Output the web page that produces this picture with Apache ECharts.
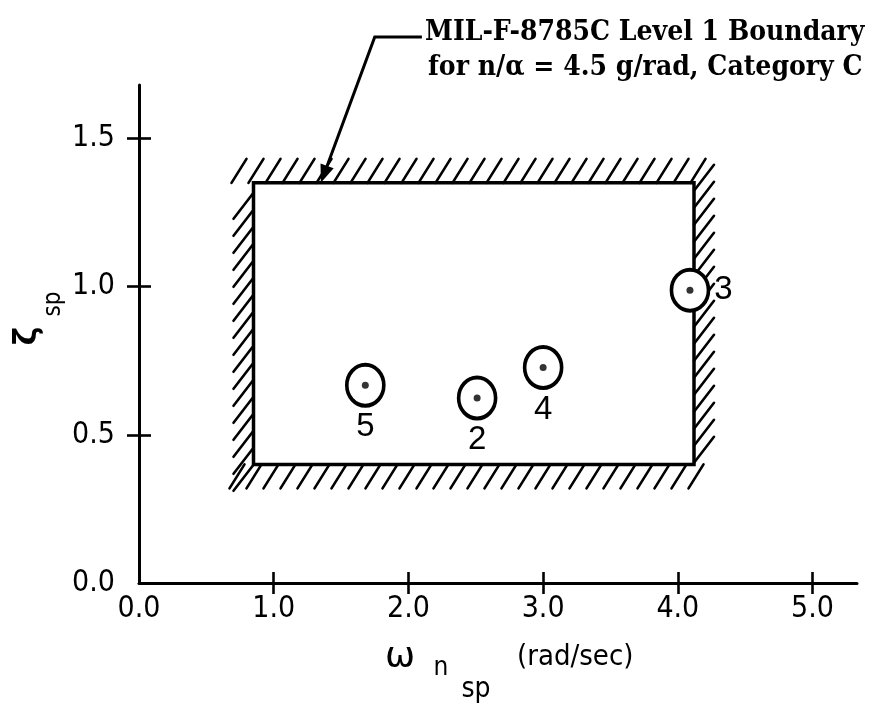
<!DOCTYPE html>
<html><head><meta charset="utf-8">
<script src="https://cdn.jsdelivr.net/npm/echarts@6/dist/echarts.min.js"></script>
<style>html,body{margin:0;padding:0;background:#fff}#c{width:871px;height:704px}</style>
</head><body><div id="c"></div>
<script>
// ---- data ----
const xTickValues = [1, 2, 3, 4, 5];
const xLabelValues = [0, 1, 2, 3, 4, 5];
const yTickValues = [0.5, 1.0, 1.5];
const yLabelValues = [0, 0.5, 1.0, 1.5];
const boundaryOmega = [0.85, 4.12];   // rad/sec, left / right edge of Level 1 box
const boundaryZeta = [0.40, 1.35];    // lower / upper edge
const pointIds = ['5', '2', '4', '3'];
const pointOmega = [1.68, 2.51, 3.00, 4.09];
const pointZeta = [0.667, 0.624, 0.727, 0.988];
const annotationLines = ['MIL-F-8785C Level 1 Boundary', 'for n/\u03b1 = 4.5 g/rad, Category C'];
const leaderTip = [1.35, 1.35];
const leaderCorner = [1.75, 1.842];
const leaderEnd = [2.10, 1.842];

const chart = echarts.init(document.getElementById('c'), null, {renderer: 'canvas'});
const tickFont = '"DejaVu Sans Condensed", "Liberation Sans", sans-serif';
const fmt = v => v.toFixed(1);

function hatchRect(params, api) {
  const tl = api.coord([api.value(0), api.value(3)]);
  const br = api.coord([api.value(2), api.value(1)]);
  const xL = tl[0], yT = tl[1], xR = br[0], yB = br[1];
  const children = [];
  const st = {stroke: '#000', lineWidth: 2.6, lineCap: 'round'};
  const step = 17, hdx = 15, hdy = 24, sdx = 20, sdy = 26;
  for (let x = xL - 22; x <= xR + 4; x += step) {
    children.push({type: 'line', shape: {x1: x, y1: yT, x2: x + hdx, y2: yT - hdy}, style: st});
  }
  for (let x = xL - 24; x <= xR + 6; x += step) {
    children.push({type: 'line', shape: {x1: x, y1: yB + hdy, x2: x + hdx, y2: yB}, style: st});
  }
  for (let y = yT + 10; y <= yB + 2; y += step) {
    children.push({type: 'line', shape: {x1: xL - sdx, y1: y + sdy, x2: xL, y2: y}, style: st});
  }
  for (let y = yT + 8; y <= yB + 4; y += step) {
    children.push({type: 'line', shape: {x1: xR, y1: y, x2: xR + sdx, y2: y - sdy}, style: st});
  }
  children.push({type: 'rect', shape: {x: xL, y: yT, width: xR - xL, height: yB - yT},
    style: {fill: null, stroke: '#000', lineWidth: 3.5}});
  return {type: 'group', children};
}

function leader(params, api) {
  const tip = api.coord([api.value(0), api.value(1)]);
  const corner = api.coord([api.value(2), api.value(3)]);
  const end = api.coord([api.value(4), api.value(3)]);
  const dx = tip[0] - corner[0], dy = tip[1] - corner[1];
  const len = Math.sqrt(dx * dx + dy * dy);
  const ux = dx / len, uy = dy / len;
  const ah = 18, aw = 7;
  const bx = tip[0] - ux * ah, by = tip[1] - uy * ah;
  return {type: 'group', children: [
    {type: 'polyline', shape: {points: [end, corner, [bx, by]]}, style: {stroke: '#000', lineWidth: 3, fill: null}},
    {type: 'polygon', shape: {points: [tip, [bx - uy * aw, by + ux * aw], [bx + uy * aw, by - ux * aw]]}, style: {fill: '#000'}}
  ]};
}

const pointData = pointIds.map((id, i) => {
  const item = {value: [pointOmega[i], pointZeta[i], id]};
  if (id === '3') item.label = {position: 'right', distance: 4};
  return item;
});

const option = {
  animation: false,
  backgroundColor: '#fff',
  grid: {left: 139, right: 14, top: 85, bottom: 121},
  xAxis: [{
    type: 'value', min: 0, max: 5.33, position: 'bottom',
    axisLine: {show: true, onZero: false, lineStyle: {color: '#000', width: 3}},
    axisTick: {show: true, customValues: xTickValues, length: 11, lineStyle: {color: '#000', width: 2.6}},
    axisLabel: {customValues: xLabelValues, formatter: fmt, color: '#000', fontFamily: tickFont, fontSize: 30, margin: 11},
    splitLine: {show: false}
  }, {
    type: 'value', min: 0, max: 5.33, position: 'bottom', gridIndex: 0,
    axisLine: {show: false, onZero: false},
    axisTick: {show: true, inside: true, customValues: xTickValues, length: 11, lineStyle: {color: '#000', width: 2.6}},
    axisLabel: {show: false}, splitLine: {show: false}
  }],
  yAxis: [{
    type: 'value', min: 0, max: 1.68,
    axisLine: {show: true, onZero: false, lineStyle: {color: '#000', width: 3}},
    axisTick: {show: true, customValues: yTickValues, length: 12, lineStyle: {color: '#000', width: 2.6}},
    axisLabel: {customValues: yLabelValues, formatter: fmt, color: '#000', fontFamily: tickFont, fontSize: 30, margin: 24},
    splitLine: {show: false}
  }, {
    type: 'value', min: 0, max: 1.68, position: 'left', gridIndex: 0,
    axisLine: {show: false, onZero: false},
    axisTick: {show: true, inside: true, customValues: yTickValues, length: 12, lineStyle: {color: '#000', width: 2.6}},
    axisLabel: {show: false}, splitLine: {show: false}
  }],
  series: [{
    type: 'custom', renderItem: hatchRect, clip: false, z: 1, silent: true,
    data: [[boundaryOmega[0], boundaryZeta[0], boundaryOmega[1], boundaryZeta[1]]]
  }, {
    type: 'custom', renderItem: leader, clip: false, z: 2, silent: true,
    data: [[leaderTip[0], leaderTip[1], leaderCorner[0], leaderCorner[1], leaderEnd[0]]]
  }, {
    type: 'scatter', z: 5, symbol: 'circle', symbolSize: [37, 41],
    itemStyle: {color: '#fff', borderColor: '#000', borderWidth: 3.8, opacity: 1},
    label: {show: true, position: 'bottom', distance: 3, formatter: p => p.value[2],
      color: '#000', fontFamily: 'Liberation Sans', fontSize: 33},
    data: pointData
  }, {
    type: 'scatter', z: 6, symbol: 'circle', symbolSize: 7, silent: true,
    itemStyle: {color: '#000'},
    data: pointOmega.map((x, i) => [x, pointZeta[i]])
  }],
  graphic: [
    {type: 'text', left: 425, top: 19, style: {text: annotationLines[0], font: 'bold 28px "DejaVu Serif Condensed", "DejaVu Serif"', fill: '#000'}},
    {type: 'text', left: 428, top: 54, style: {text: annotationLines[1], font: 'bold 28px "DejaVu Serif Condensed", "DejaVu Serif"', fill: '#000'}},
    {type: 'text', x: 28, y: 336, rotation: Math.PI / 2, style: {text: '\u03b6', font: 'bold 32px "DejaVu Sans"', fill: '#000', align: 'center', verticalAlign: 'middle'}},
    {type: 'text', x: 54, y: 304, rotation: Math.PI / 2, style: {text: 'sp', font: '24px "DejaVu Sans Condensed", "Liberation Sans"', fill: '#000', align: 'center', verticalAlign: 'middle'}},
    {type: 'text', x: 400, y: 658, style: {text: '\u03c9', font: '36px "DejaVu Sans"', fill: '#000', align: 'center', verticalAlign: 'middle'}},
    {type: 'text', x: 441, y: 668, style: {text: 'n', font: '26px "DejaVu Sans Condensed", "Liberation Sans"', fill: '#000', align: 'center', verticalAlign: 'middle'}},
    {type: 'text', x: 476, y: 690, style: {text: 'sp', font: '28px "DejaVu Sans Condensed", "Liberation Sans"', fill: '#000', align: 'center', verticalAlign: 'middle'}},
    {type: 'text', x: 517, y: 657, style: {text: '(rad/sec)', font: '29px "DejaVu Sans Condensed", "Liberation Sans"', fill: '#000', align: 'left', verticalAlign: 'middle'}}
  ]
};
chart.setOption(option);
</script>
</body></html>
